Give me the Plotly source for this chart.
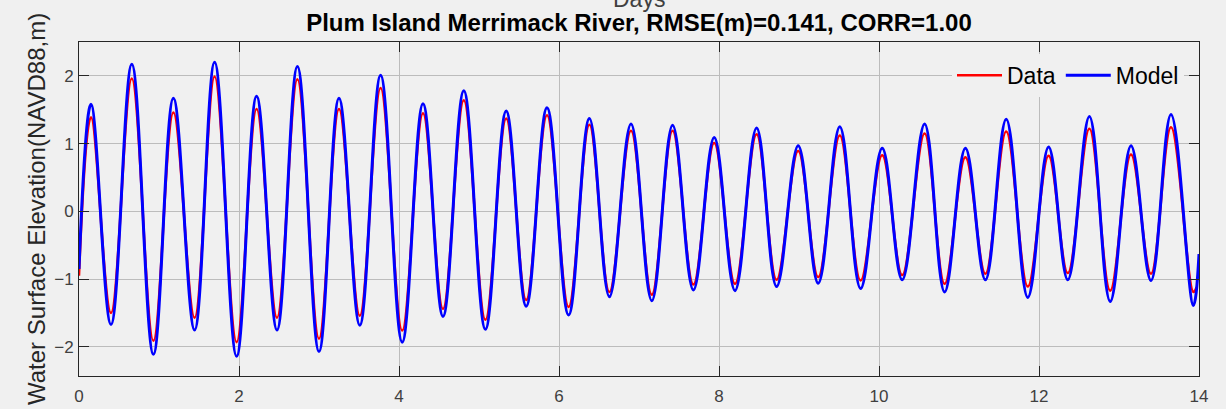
import plotly.graph_objects as go

# Extremes (high / low water), in days and metres
model_days = [0.00, 0.15, 0.40, 0.66, 0.93, 1.18, 1.445, 1.695, 1.97, 2.22, 2.475, 2.73, 3.00,
              3.25, 3.51, 3.77, 4.04, 4.30, 4.55, 4.81, 5.08, 5.34, 5.59, 5.85, 6.12, 6.38,
              6.63, 6.90, 7.16, 7.42, 7.68, 7.94, 8.20, 8.47, 8.72, 8.99, 9.24, 9.51, 9.77,
              10.04, 10.29, 10.57, 10.82, 11.08, 11.33, 11.59, 11.86, 12.12, 12.36, 12.63,
              12.89, 13.15, 13.40, 13.65, 13.93, 14.00]
model_wse = [-0.85, 1.58, -1.67, 2.17, -2.11, 1.67, -1.75, 2.20, -2.14, 1.70, -1.75, 2.14, -2.07,
             1.67, -1.68, 2.01, -1.93, 1.59, -1.55, 1.78, -1.74, 1.48, -1.40, 1.53, -1.53, 1.37,
             -1.26, 1.29, -1.32, 1.27, -1.16, 1.09, -1.17, 1.23, -1.11, 0.97, -1.06, 1.25, -1.14,
             0.93, -1.01, 1.29, -1.19, 0.93, -1.01, 1.36, -1.27, 0.95, -1.01, 1.40,
             -1.33, 0.97, -1.02, 1.43, -1.39, -0.63]

data_days = [0.00, 0.15, 0.40, 0.66, 0.93, 1.18, 1.445, 1.695, 1.97, 2.22, 2.475, 2.73, 3.00,
             3.25, 3.51, 3.77, 4.04, 4.30, 4.55, 4.81, 5.08, 5.34, 5.59, 5.85, 6.12, 6.38,
             6.63, 6.90, 7.16, 7.42, 7.68, 7.94, 8.20, 8.47, 8.72, 8.99, 9.24, 9.51, 9.77,
             10.04, 10.29, 10.57, 10.82, 11.08, 11.33, 11.59, 11.86, 12.12, 12.36, 12.63,
             12.89, 13.15, 13.40, 13.65, 13.93, 13.97]
data_wse = [-0.95, 1.39, -1.50, 1.96, -1.91, 1.46, -1.57, 1.99, -1.93, 1.51, -1.57, 1.95, -1.88,
            1.51, -1.54, 1.82, -1.76, 1.45, -1.44, 1.64, -1.60, 1.37, -1.31, 1.42, -1.41, 1.28,
            -1.19, 1.19, -1.23, 1.19, -1.08, 1.01, -1.07, 1.14, -1.01, 0.89, -0.97, 1.12, -1.02,
            0.83, -0.94, 1.15, -1.07, 0.80, -0.92, 1.18, -1.11, 0.82, -0.91, 1.22,
            -1.17, 0.84, -0.92, 1.24, -1.19, -1.12]

x_ticks = [0, 2, 4, 6, 8, 10, 12, 14]
y_ticks = [-2, -1, 0, 1, 2]

title_text = "Plum Island Merrimack River, RMSE(m)=0.141, CORR=1.00"
x_label = "Days"
y_label = "Water Surface Elevation(NAVD88,m)"

BG = "#f0f0f0"
AX = "#262626"
GRID = "#bcbcbc"
FONT = "Liberation Sans, Arial, sans-serif"

fig = go.Figure()
fig.add_trace(go.Scatter(x=data_days, y=data_wse, mode="lines", name="Data",
                         line=dict(color="#ff0000", width=2.5, shape="spline", smoothing=1.1)))
fig.add_trace(go.Scatter(x=model_days, y=model_wse, mode="lines", name="Model",
                         line=dict(color="#0000ff", width=3, shape="spline", smoothing=1.1)))

axis_common = dict(showgrid=True, gridcolor=GRID, gridwidth=1, zeroline=False,
                   showline=True, linecolor=AX, linewidth=1, mirror="ticks",
                   ticks="inside", ticklen=10, tickcolor=AX, tickwidth=1, automargin=False,
                   tickfont=dict(family=FONT, size=17, color="#404040"))

fig.update_layout(
    width=1226, height=409, autosize=False,
    margin=dict(l=79, r=27, t=42, b=33),
    paper_bgcolor=BG, plot_bgcolor=BG,
    font=dict(family=FONT),
    showlegend=True,
    legend=dict(orientation="h", x=(952 - 79) / 1120, xanchor="left", y=0.90, yanchor="middle",
                itemwidth=45,
                bgcolor=BG, borderwidth=0, font=dict(family=FONT, size=23, color="#000000")),
    title=dict(text="<b>" + title_text + "</b>", x=0.5, xanchor="center", xref="paper",
               y=1 - 23 / 409, yanchor="middle", yref="container",
               font=dict(family=FONT, size=24, color="#000000")),
)
fig.update_xaxes(range=[0, 14], tickvals=x_ticks, ticklabelstandoff=5, **axis_common)
fig.update_yaxes(range=[-2.43, 2.5], tickvals=y_ticks, ticklabelstandoff=1, **axis_common)

fig.add_annotation(text=x_label, xref="paper", yref="paper", x=0.5, y=1.13,
                   xanchor="center", yanchor="middle", showarrow=False,
                   font=dict(family=FONT, size=23, color="#404040"))
fig.add_annotation(text=y_label, xref="paper", yref="paper", x=(36 - 79) / 1120, y=0.5,
                   xanchor="center", yanchor="middle", textangle=-90, showarrow=False,
                   font=dict(family=FONT, size=24, color="#262626"))

page_js = ("document.body.style.margin='0';"
           "document.body.style.background='" + BG + "';")
fig.write_html("out.html", post_script=page_js, config={"displayModeBar": False})
